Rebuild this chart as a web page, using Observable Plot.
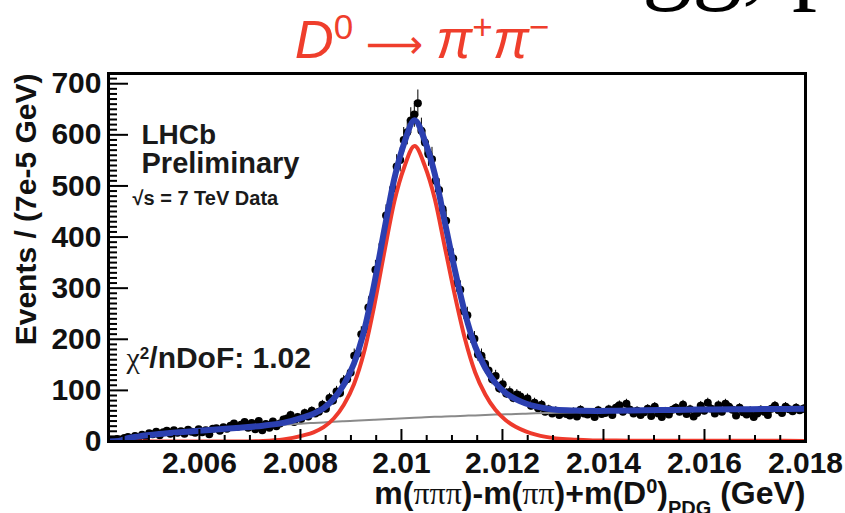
<!DOCTYPE html>
<html>
<head>
<meta charset="utf-8">
<script src="https://cdn.jsdelivr.net/npm/d3@7"></script>
<script src="https://cdn.jsdelivr.net/npm/@observablehq/plot@0.6"></script>
<style>
  html, body { margin: 0; padding: 0; background: #fff; overflow: hidden; }
  #chart { position: relative; width: 845px; height: 513px; }
</style>
</head>
<body>
<div id="chart"></div>
<script>
// Histogram binning of the mass variable (GeV)
const binLow = 2.0042;
const binWidth = 0.00007;

// Events per bin
const counts = [
  3, 2, 5, 4, 7, 9, 6, 11, 8, 13,
  10, 16, 14, 19, 12, 18, 21, 15, 22, 17,
  20, 15, 23, 19, 17, 24, 18, 22, 14, 25,
  26, 21, 28, 25, 31, 35, 29, 33, 38, 27,
  36, 24, 40, 22, 34, 27, 39, 30, 35, 43,
  45, 52, 38, 48, 44, 56, 49, 60, 55, 58,
  72, 64, 85, 80, 98, 95, 118, 122, 135, 168,
  172, 210, 219, 262, 280, 336, 349, 385, 442, 455,
  495, 538, 551, 590, 605, 628, 640, 662, 608, 585,
  562, 552, 510, 492, 455, 432, 371, 358, 310, 297,
  255, 247, 206, 201, 170, 168, 152, 139, 122, 128,
  104, 112, 94, 97, 85, 92, 88, 79, 84, 70,
  76, 65, 72, 58, 63, 55, 60, 52, 57, 54,
  51, 58, 49, 62, 55, 53, 57, 48, 61, 54,
  56, 63, 52, 66, 71, 58, 74, 62, 55, 60,
  52, 57, 64, 50, 68, 55, 48, 59, 53, 62,
  66, 58, 72, 54, 63, 49, 56, 70, 60, 76,
  64, 55, 71, 58, 74, 68, 62, 51, 66, 57,
  53, 60, 48, 55, 62, 58, 52, 64, 70, 61,
  56, 68, 63, 59, 66, 61, 64
];

// Fit components sampled along the mass axis
const fitMass = [
  2.0042, 2.0044, 2.0046, 2.0048, 2.0052, 2.0056, 2.0060, 2.0064, 2.0068,
  2.00726, 2.00766, 2.00806, 2.00826, 2.00846, 2.00866, 2.00886, 2.00906, 2.00926,
  2.00946, 2.00966, 2.00986, 2.01006, 2.01026, 2.01046, 2.01066, 2.01086, 2.01106,
  2.01126, 2.01146, 2.01166, 2.01186, 2.01206, 2.01226, 2.01246, 2.01266, 2.01286,
  2.01306, 2.01346, 2.01386, 2.01426, 2.0148, 2.0154, 2.0160, 2.0166, 2.0172, 2.0180
];
const fitTotal = [
  0, 1, 7, 10, 14.5, 18, 21, 24, 27,
  31, 36.5, 47.3, 54.3, 65.3, 83.6, 111.6, 152.6, 216.6,
  307.6, 413.6, 514.6, 585.6, 628.6, 589.4, 523.2, 428.9, 334.6,
  250.4, 186.1, 143.9, 114.6, 95.1, 82.8, 74.4, 68.6, 64.6,
  62.1, 60.6, 59.9, 60.4, 61.1, 61.8, 62.6, 63.0, 63.5, 64.0
];
const fitSignal = [
  0, 0, 0, 0, 0, 0, 0, 0, 0,
  1, 4, 12, 18, 28, 45, 72, 112, 175,
  265, 370, 470, 538, 578, 540, 475, 380, 285,
  200, 135, 92, 62, 42, 29, 20, 13.5, 9,
  6, 3.5, 2, 1.8, 1.6, 1.5, 1.4, 1.3, 1.3, 1.2
];
const fitBackground = [
  0, 1, 7, 10, 14.5, 18, 21, 24, 27,
  30, 32.5, 35.3, 36.3, 37.3, 38.6, 39.6, 40.6, 41.6,
  42.6, 43.6, 44.6, 45.6, 46.6, 47.4, 48.2, 48.9, 49.6,
  50.4, 51.1, 51.9, 52.6, 53.1, 53.8, 54.4, 55.1, 55.6,
  56.1, 57.1, 57.9, 58.6, 59.5, 60.3, 61.2, 61.7, 62.2, 62.8
];

// Axis ticks
const yTickValues = [0, 100, 200, 300, 400, 500, 600, 700];
const xTickLabels = ["2.006", "2.008", "2.01", "2.012", "2.014", "2.016", "2.018"];
const xTickValues = xTickLabels.map(Number);
const xMinorTicks = [2.0045, 2.005, 2.0055, 2.0065, 2.007, 2.0075, 2.0085, 2.009, 2.0095,
  2.0105, 2.011, 2.0115, 2.0125, 2.013, 2.0135, 2.0145, 2.015, 2.0155, 2.0165, 2.017, 2.0175];
const yMinorTicks = d3.range(10, 720, 10).filter(v => v % 100 !== 0);

// Text
const titleText = "D0 ⟶ π+π−";
const yTitle = "Events / (7e-5 GeV)";
const xTitle = "m(πππ)-m(ππ)+m(D0)PDG (GeV)";
const chiText = "χ2/nDoF: 1.02";

const bins = counts.map((n, i) => ({m: binLow + binWidth * (i + 0.5), n}));
const curve = ys => fitMass.map((m, i) => ({m, v: ys[i]}));

const W = 845, H = 513;
const mL = 108, mR = 40, mT = 73, mB = 72;
const frameW = W - mL - mR, frameH = H - mT - mB;
const sans = '"Liberation Sans", Arial, Helvetica, sans-serif';
const serif = '"Liberation Serif", "Times New Roman", serif';
const dark = "#1a1a1a";

const plot = Plot.plot({
  width: W, height: H,
  marginLeft: mL, marginRight: mR, marginTop: mT, marginBottom: mB,
  x: {domain: [2.0042, 2.018], label: null},
  y: {domain: [0, 720], label: null},
  style: {fontFamily: sans, background: "#fff", color: "#000", overflow: "visible"},
  marks: [
    // data: Poisson error bars and points
    Plot.ruleX(bins, {x: "m", y1: d => d.n - Math.sqrt(d.n), y2: d => d.n + Math.sqrt(d.n),
      stroke: "#000", strokeWidth: 1, clip: true}),
    Plot.dot(bins, {x: "m", y: "n", r: 4, fill: "#000", stroke: "none", clip: true}),
    // fit components
    Plot.line(curve(fitBackground), {x: "m", y: "v", stroke: "#8a8a8a", strokeWidth: 2, curve: "monotone-x", clip: true}),
    Plot.line(curve(fitSignal), {x: "m", y: "v", stroke: "#ee3a2c", strokeWidth: 4, curve: "monotone-x", clip: true}),
    Plot.line(curve(fitTotal), {x: "m", y: "v", stroke: "#2b3fb0", strokeWidth: 6, curve: "monotone-x", clip: true}),
    // inward ticks
    Plot.tickY(yMinorTicks, {y: d => d, insetRight: frameW - 9, stroke: "#000", strokeWidth: 2}),
    Plot.tickY(yTickValues, {y: d => d, insetRight: frameW - 20, stroke: "#000", strokeWidth: 2}),
    Plot.tickX(xMinorTicks, {x: d => d, insetTop: frameH - 6, stroke: "#000", strokeWidth: 2}),
    Plot.tickX(xTickValues, {x: d => d, insetTop: frameH - 12, stroke: "#000", strokeWidth: 2}),
    Plot.frame({stroke: "#000", strokeWidth: 3}),
    // tick labels
    Plot.axisY(yTickValues, {anchor: "left", tickSize: 0, tickPadding: 7, fontSize: 30,
      fontWeight: "bold", fill: "#111", label: null}),
    Plot.axisX(xTickValues, {anchor: "bottom", tickSize: 0, tickPadding: 10, fontSize: 30,
      fontWeight: "bold", fill: "#111", label: null,
      tickFormat: d => xTickLabels[xTickValues.indexOf(d)]}),
    // titles and annotations
    Plot.text([yTitle], {frameAnchor: "top-left", rotate: -90, textAnchor: "end", lineAnchor: "middle",
      dx: -82, dy: 0, fontSize: 30, fontWeight: "bold", fill: "#111"}),
    Plot.text([xTitle], {frameAnchor: "bottom-right", textAnchor: "end", lineAnchor: "middle",
      dx: 0, dy: 52, fontSize: 32, fontWeight: "bold", fill: "#111"}),
    Plot.text([titleText], {frameAnchor: "top", lineAnchor: "middle", dx: -35, dy: -33, fontSize: 54,
      fontStyle: "italic", fill: "#ef3e2c"}),
    Plot.text(["LHCb"], {frameAnchor: "top-left", textAnchor: "start", lineAnchor: "middle",
      dx: 33, dy: 62, fontSize: 28, fontWeight: "bold", fill: dark}),
    Plot.text(["Preliminary"], {frameAnchor: "top-left", textAnchor: "start", lineAnchor: "middle",
      dx: 33, dy: 90, fontSize: 29, fontWeight: "bold", fill: dark}),
    Plot.text(["√s = 7 TeV Data"], {frameAnchor: "top-left", textAnchor: "start", lineAnchor: "middle",
      dx: 24, dy: 125, fontSize: 20, fontWeight: "bold", fill: dark}),
    Plot.text([chiText], {frameAnchor: "top-left", textAnchor: "start", lineAnchor: "middle",
      dx: 18, dy: 285, fontSize: 30, fontWeight: "bold", fill: dark})
  ]
});

document.getElementById("chart").appendChild(plot);

// Rich text: superscripts, subscripts and Greek letters in a serif face
function rich(plain, parts) {
  d3.select(plot).selectAll("text")
    .filter(function() { return this.textContent === plain; })
    .each(function() {
      const t = d3.select(this);
      t.text(null);
      for (const p of parts) {
        const s = t.append("tspan").text(p.t);
        for (const [k, v] of Object.entries(p)) if (k !== "t") s.attr(k, v);
      }
    });
}

rich(titleText, [
  {t: "D"},
  {t: "0", "baseline-shift": "super", "font-size": 35, "font-style": "normal"},
  {t: " ⟶ ", "font-style": "normal", "font-family": '"DejaVu Sans", sans-serif', "font-size": 40},
  {t: "π"},
  {t: "+", "baseline-shift": "super", "font-size": 35, "font-style": "normal"},
  {t: "π"},
  {t: "−", "baseline-shift": "super", "font-size": 35, "font-style": "normal"}
]);

rich(xTitle, [
  {t: "m("},
  {t: "πππ", "font-family": serif, "font-weight": "normal"},
  {t: ")-m("},
  {t: "ππ", "font-family": serif, "font-weight": "normal"},
  {t: ")+m(D"},
  {t: "0", "baseline-shift": "super", "font-size": 20},
  {t: ")"},
  {t: "PDG", "baseline-shift": "sub", "font-size": 20},
  {t: " (GeV)"}
]);

rich(chiText, [
  {t: "χ", "font-family": serif, "font-weight": "normal"},
  {t: "2", "baseline-shift": "super", "font-size": 17},
  {t: "/nDoF: 1.02"}
]);

// Slide heading above the plot, running off the top edge
d3.select(plot).append("text")
  .attr("x", 742).attr("y", -9)
  .attr("text-anchor", "middle")
  .attr("font-family", serif)
  .attr("font-size", 100)
  .attr("fill", "#000")
  .text("gg, p");
</script>
</body>
</html>
